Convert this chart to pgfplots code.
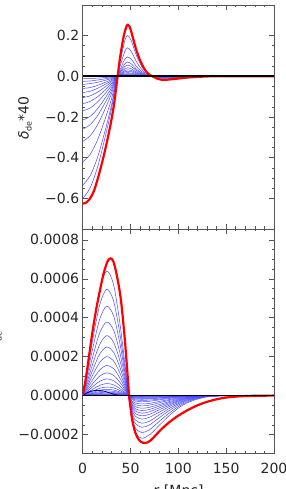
\documentclass[border=0pt]{standalone}
\usepackage{fontspec}
\setmainfont{DejaVu Sans}
\usepackage{pgfplots}
\usepackage{pgfplotstable}
\pgfplotsset{compat=1.18}
\definecolor{lineblue}{RGB}{70,70,255}
\definecolor{axgray}{RGB}{85,85,85}

% top panel: delta_de*40, 14 blue curves
\pgfplotstableread{
r t1 t2 t3 t4 t5 t6 t7 t8 t9 t10 t11 t12 t13 t14
0 -0.60 -0.535 -0.42 -0.32 -0.26 -0.215 -0.17 -0.135 -0.105 -0.08 -0.06 -0.04 -0.025 -0.012
8 -0.546 -0.487 -0.382 -0.291 -0.237 -0.196 -0.155 -0.123 -0.096 -0.073 -0.055 -0.036 -0.023 -0.011
16 -0.438 -0.391 -0.307 -0.234 -0.19 -0.157 -0.124 -0.099 -0.077 -0.058 -0.044 -0.029 -0.018 -0.009
24 -0.288 -0.257 -0.202 -0.154 -0.125 -0.103 -0.082 -0.065 -0.05 -0.038 -0.029 -0.019 -0.012 -0.006
30 -0.162 -0.144 -0.113 -0.086 -0.07 -0.058 -0.046 -0.036 -0.028 -0.022 -0.016 -0.011 -0.007 -0.003
36 0 0 0 0 0 0 0 0 0 0 0 0 0 0
40 0.09 0.063 0.043 0.032 0.025 0.019 0.014 0.011 0.008 0.006 0.004 0.0027 0.0018 0.0009
44 0.174 0.122 0.083 0.061 0.048 0.037 0.028 0.022 0.016 0.011 0.008 0.005 0.0035 0.0017
47 0.2 0.14 0.095 0.07 0.055 0.042 0.032 0.025 0.018 0.013 0.009 0.006 0.004 0.002
51 0.172 0.12 0.082 0.06 0.047 0.036 0.028 0.022 0.015 0.011 0.008 0.005 0.0034 0.0017
56 0.104 0.073 0.049 0.036 0.029 0.022 0.017 0.013 0.009 0.007 0.005 0.003 0.002 0.001
62 0.046 0.032 0.022 0.016 0.013 0.01 0.007 0.006 0.004 0.003 0.002 0.0014 0.0009 0.0005
68 0.012 0.008 0.006 0.004 0.003 0.0025 0.002 0.0015 0.001 0.001 0.0005 0.0004 0.0002 0.0001
74 0 0 0 0 0 0 0 0 0 0 0 0 0 0
84 -0.014 -0.01 -0.0067 -0.005 -0.004 -0.003 -0.0022 -0.0018 -0.0013 -0.0009 -0.0006 -0.0004 -0.0003 -0.0001
100 -0.008 -0.0056 -0.0038 -0.003 -0.002 -0.0017 -0.0013 -0.001 -0.0007 -0.0005 -0.0004 -0.0002 -0.0002 0
120 -0.0024 -0.0017 -0.0011 -0.001 -0.0007 -0.0005 -0.0004 -0.0003 -0.0002 -0.0002 -0.0001 0 0 0
140 0 0 0 0 0 0 0 0 0 0 0 0 0 0
200 0 0 0 0 0 0 0 0 0 0 0 0 0 0
}\toptab

% bottom panel: values in units of 1e-4, 19 blue curves
\pgfplotstableread{
r c1 c2 c3 c4 c5 c6 c7 c8 c9 c10 c11 c12 c13 c14 c15 c16 c17 c18 c19
0 0 0 0 0 0 0 0 0 0 0 0 0 0 0 0 0 0 0 0
6 1.92 1.64 1.38 1.13 0.92 0.75 0.6 0.47 0.35 0.26 0.19 0.13 0.1 0.07 0.05 0.04 0.03 0.02 0.01
12 3.84 3.28 2.76 2.27 1.85 1.5 1.2 0.93 0.7 0.52 0.37 0.26 0.19 0.14 0.11 0.08 0.05 0.04 0.02
18 5.5 4.7 3.96 3.25 2.65 2.15 1.72 1.33 1.01 0.74 0.53 0.38 0.28 0.21 0.15 0.11 0.08 0.05 0.03
25 6.4 5.46 4.6 3.78 3.08 2.5 2.0 1.55 1.17 0.86 0.62 0.44 0.32 0.24 0.18 0.13 0.09 0.06 0.04
32 5.76 4.91 4.14 3.4 2.77 2.25 1.8 1.4 1.05 0.77 0.56 0.4 0.29 0.22 0.16 0.12 0.08 0.05 0.04
38 4.03 3.44 2.9 2.38 1.94 1.58 1.26 0.98 0.74 0.54 0.39 0.28 0.2 0.15 0.11 0.08 0.06 0.04 0.03
43 2.11 1.8 1.52 1.25 1.02 0.83 0.66 0.51 0.39 0.28 0.2 0.15 0.11 0.08 0.06 0.04 0.03 0.02 0.01
48 0 0 0 0 0 0 0 0 0 0 0 0 0 0 0 0 0 0 0
51 -1.2 -1.05 -0.9 -0.78 -0.67 -0.57 -0.5 -0.42 -0.36 -0.29 -0.24 -0.18 -0.14 -0.1 -0.08 -0.06 -0.04 -0.03 -0.02
55 -1.93 -1.67 -1.43 -1.25 -1.06 -0.92 -0.79 -0.68 -0.57 -0.47 -0.38 -0.28 -0.22 -0.17 -0.13 -0.1 -0.07 -0.04 -0.03
62 -2.19 -1.9 -1.63 -1.42 -1.21 -1.04 -0.9 -0.77 -0.65 -0.53 -0.43 -0.32 -0.25 -0.19 -0.15 -0.11 -0.08 -0.05 -0.035
70 -2.01 -1.75 -1.5 -1.31 -1.11 -0.96 -0.83 -0.71 -0.6 -0.49 -0.4 -0.29 -0.23 -0.17 -0.14 -0.1 -0.07 -0.05 -0.03
80 -1.53 -1.33 -1.14 -0.99 -0.85 -0.73 -0.63 -0.54 -0.46 -0.37 -0.3 -0.22 -0.18 -0.13 -0.11 -0.08 -0.06 -0.04 -0.02
92 -0.96 -0.84 -0.72 -0.62 -0.53 -0.46 -0.4 -0.34 -0.29 -0.23 -0.19 -0.14 -0.11 -0.08 -0.07 -0.05 -0.04 -0.02 -0.015
105 -0.48 -0.42 -0.36 -0.31 -0.27 -0.23 -0.2 -0.17 -0.14 -0.12 -0.09 -0.07 -0.06 -0.04 -0.03 -0.02 -0.02 -0.01 -0.01
120 -0.18 -0.15 -0.13 -0.11 -0.1 -0.08 -0.07 -0.06 -0.05 -0.04 -0.03 -0.03 -0.02 -0.02 -0.01 -0.01 -0.01 0 0
140 -0.02 -0.02 -0.02 -0.01 -0.01 -0.01 -0.01 -0.01 -0.01 0 0 0 0 0 0 0 0 0 0
200 0 0 0 0 0 0 0 0 0 0 0 0 0 0 0 0 0 0 0
}\bottab

\pgfplotsset{
  idlstyle/.style={
    scale only axis, width=191.3pt, height=224pt,
    anchor=south west,
    xmin=0, xmax=200,
    xtick={0,50,100,150,200},
    minor x tick num=4, minor y tick num=3,
    tick align=inside, xtick pos=both, ytick pos=both,
    major tick length=5pt, minor tick length=2.5pt,
    axis line style={axgray, line width=0.6pt},
    tick style={axgray, line width=0.5pt},
    tick label style={font=\fontsize{14}{16}\selectfont, text=black!85},
    xticklabel style={yshift=-7pt},
  }
}

\begin{document}
\begin{tikzpicture}
\useasboundingbox (0pt,0pt) rectangle (285pt,489pt);

% top panel
\begin{axis}[idlstyle, at={(82.7pt,260pt)},
  ymin=-0.75, ymax=0.35,
  ytick={-0.6,-0.4,-0.2,0,0.2},
  yticklabels={−0.6,−0.4,−0.2,0.0,0.2},
  xticklabels={}]
\pgfplotsinvokeforeach{1,...,14}{
  \addplot[lineblue, line width=0.5pt, smooth] table[x=r, y=t#1] {\toptab};
}
\addplot[red, line width=2.2pt, smooth] coordinates {
(0,-0.625)(3,-0.622)(6,-0.61)(9,-0.59)(12,-0.56)(15,-0.515)(18,-0.465)(21,-0.41)(24,-0.35)(27,-0.285)(30,-0.215)(33,-0.13)(35,-0.055)(36.5,0)(38,0.055)(40,0.12)(43,0.2)(46,0.248)(47.5,0.252)(49,0.245)(51,0.215)(53,0.18)(56,0.13)(60,0.078)(64,0.04)(67,0.02)(70,0.007)(74,-0.003)(78,-0.012)(84,-0.018)(90,-0.016)(100,-0.011)(110,-0.006)(120,-0.003)(130,-0.001)(140,0)(200,0)};
\addplot[black, line width=1.6pt] coordinates {(0,0)(200,0)};
\end{axis}

% bottom panel
\begin{axis}[idlstyle, at={(82.7pt,36pt)},
  ymin=-2.95, ymax=8.56,
  ytick={-2,0,2,4,6,8},
  yticklabels={−0.0002,0.0000,0.0002,0.0004,0.0006,0.0008},
  xticklabels={0,50,100,150,200}]
\pgfplotsinvokeforeach{1,...,19}{
  \addplot[lineblue, line width=0.5pt, smooth] table[x=r, y=c#1] {\bottab};
}
\addplot[blue!55!black, line width=0.8pt, smooth] coordinates {
(0,0)(5,0.15)(10,0.24)(15,0.27)(20,0.25)(25,0.19)(30,0.11)(35,0.04)(40,0)};
\addplot[red, line width=2.2pt, smooth] coordinates {
(0,0)(3,0.8)(6,1.8)(10,3.2)(14,4.4)(18,5.4)(22,6.3)(26,6.9)(29,7.05)(32,6.9)(36,6.1)(40,4.9)(44,2.9)(47,1.0)(48.5,0)(50,-0.6)(52,-1.3)(55,-1.9)(58,-2.22)(61,-2.38)(65,-2.44)(68,-2.4)(71,-2.3)(74,-2.16)(77,-2.0)(80,-1.84)(85,-1.6)(90,-1.39)(95,-1.2)(100,-1.03)(110,-0.74)(120,-0.5)(130,-0.32)(140,-0.19)(150,-0.1)(165,-0.035)(180,-0.01)(200,0)};
\addplot[black, line width=1.6pt] coordinates {(0,0)(200,0)};
\end{axis}

% axis titles
\node[rotate=90, font=\fontsize{14}{16}\selectfont, text=black!85] at (25pt,371pt)
  {\textit{δ}\raisebox{-0.4ex}{\fontsize{8}{9}\selectfont de}*40};
\node[rotate=90, anchor=south, inner sep=0pt, font=\fontsize{14}{16}\selectfont, text=black!85] at (2pt,148pt)
  {\textit{v}\raisebox{-0.4ex}{\fontsize{8}{9}\selectfont de}};
\node[anchor=north, inner sep=0pt, font=\fontsize{14}{16}\selectfont, text=black!85] at (178.3pt,4pt)
  {\textit{r} [Mpc]};
\end{tikzpicture}
\end{document}
